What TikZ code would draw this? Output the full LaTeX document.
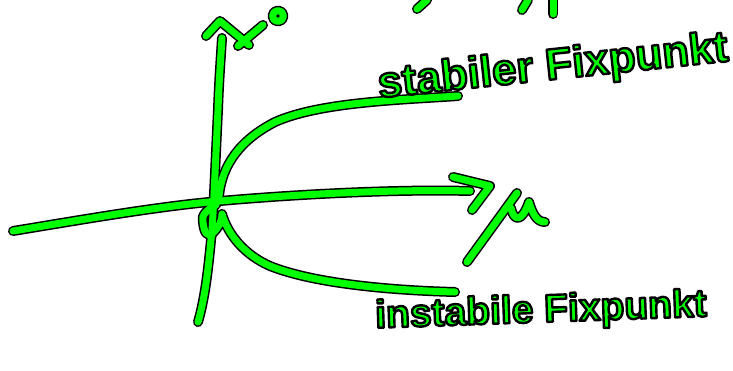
\documentclass[tikz,border=0pt]{standalone}
\usepackage{fontspec}
\setmainfont{Liberation Sans}
\definecolor{ink}{RGB}{0,255,0}
\newcommand\outlined[1]{\textcolor{ink}{\special{pdf:literal direct 0 0 0 RG 2 Tr 2.4 w}#1\special{pdf:literal direct 0 Tr}}}
\newcommand\mystrokes{%
  % vertical axis
  \draw[pen] (198,322) .. controls (206,295) and (209,260) .. (212,230)
     .. controls (214,200) and (216,150) .. (218,110)
     .. controls (219,80) and (221,55) .. (222,38);
  % arrow head + x
  \draw[pen] (206,36) -- (220,21) -- (249,45);
  \draw[pen] (238,46) -- (263,25);
  \draw[pen] (278,16) circle (5.5);
  % horizontal axis
  \draw[pen] (13,231) .. controls (80,220) and (160,206) .. (220,201)
     .. controls (300,194) and (400,189) .. (470,191);
  \draw[pen] (453,177) -- (490,186) -- (472,210);
  % mu
  \draw[pen] (467,262) -- (517,193);
  \draw[pen] (511,208) .. controls (514,222) and (522,222) .. (529,202)
     .. controls (532,212) and (536,222) .. (545,222);
  % upper branch
  \draw[pen] (219,196) .. controls (222,165) and (240,140) .. (275,122)
     .. controls (320,102) and (400,100) .. (458,96);
  % lower branch with small loop
  \draw[pen] (216,205) .. controls (206,210) and (201,216) .. (203,222)
     .. controls (204,232) and (207,238) .. (213,233)
     .. controls (218,228) and (222,222) .. (222,214)
     .. controls (228,235) and (245,255) .. (270,266)
     .. controls (310,282) and (380,290) .. (455,292);
  % cut-off strokes at the top
  \draw[pen] (417,9) -- (427,0);
  \draw[pen] (522,10) -- (528,0);
  \draw[pen] (553,0) -- (553,14);
}
\begin{document}
\begin{tikzpicture}[x=1pt,y=-1pt,line cap=round,line join=round]
\useasboundingbox (0,0) rectangle (733,370);
\begin{scope}[pen/.style={draw=black,line width=10pt}]
\mystrokes
\end{scope}
\begin{scope}[pen/.style={draw=ink,line width=7pt}]
\mystrokes
\end{scope}
\node[rotate=6,inner sep=0pt] (stab) at (553,68)
  {\fontsize{44}{44}\selectfont\bfseries\outlined{stabiler Fixpunkt}};
\node[rotate=2,inner sep=0pt] (instab) at (541,312)
  {\fontsize{39}{39}\selectfont\bfseries\outlined{instabile Fixpunkt}};
\end{tikzpicture}
\end{document}
